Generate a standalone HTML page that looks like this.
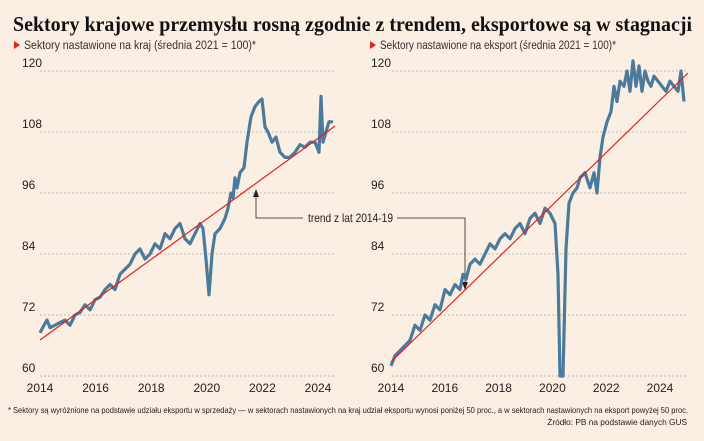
<!DOCTYPE html>
<html><head><meta charset="utf-8"><style>
body{margin:0;background:#fbeee2;width:704px;height:441px;overflow:hidden;font-family:"Liberation Sans",sans-serif}
svg{position:absolute;left:0;top:0}
</style></head><body>
<svg width="704" height="441" viewBox="0 0 704 441" xmlns="http://www.w3.org/2000/svg">
<rect width="704" height="441" fill="#fbeee2"/>
<text x="13" y="31" font-family="Liberation Serif,serif" font-weight="bold" font-size="21" fill="#111" textLength="679" lengthAdjust="spacingAndGlyphs">Sektory krajowe przemysłu rosną zgodnie z trendem, eksportowe są w stagnacji</text>
<polygon points="14,41 20,45 14,49" fill="#e2231a"/>
<text x="24" y="49" font-size="11.5" fill="#333" textLength="232" lengthAdjust="spacingAndGlyphs">Sektory nastawione na kraj (średnia 2021 = 100)*</text>
<polygon points="370,41 376,45 370,49" fill="#e2231a"/>
<text x="380" y="49" font-size="11.5" fill="#333" textLength="236" lengthAdjust="spacingAndGlyphs">Sektory nastawione na eksport (średnia 2021 = 100)*</text>
<g id="grid" stroke="#aaa" stroke-width="0.8" stroke-dasharray="2,2"></g>
<g id="labels" font-size="12" fill="#222"></g>
<path d="M256,190 L256,218 L303,218 M397,218 L465,218 L465,288" fill="none" stroke="#222" stroke-width="0.8"/>
<polygon points="253,197 256,189 259,197" fill="#222"/>
<polygon points="462,282 465,290 468,282" fill="#222"/>
<text x="308" y="222" font-size="12" fill="#222" textLength="85" lengthAdjust="spacingAndGlyphs">trend z lat 2014-19</text>
<path id="l1" fill="none" stroke="#4a7b9d" stroke-width="3.2" stroke-linejoin="round"/>
<path id="l2" fill="none" stroke="#4a7b9d" stroke-width="3.2" stroke-linejoin="round"/>
<line x1="40" y1="340" x2="335" y2="126" stroke="#e2231a" stroke-width="1.2"/>
<line x1="391" y1="362" x2="688" y2="73" stroke="#e2231a" stroke-width="1.2"/>
<text x="8" y="413" font-size="8.3" fill="#222" textLength="680" lengthAdjust="spacingAndGlyphs">* Sektory są wyróżnione na podstawie udziału eksportu w sprzedaży — w sektorach nastawionych na kraj udział eksportu wynosi poniżej 50 proc., a w sektorach nastawionych na eksport powyżej 50 proc.</text>
<text x="687" y="425" font-size="8.3" fill="#222" text-anchor="end">Źródło: PB na podstawie danych GUS</text>
</svg>
<script>
var ns="http://www.w3.org/2000/svg";
function y(v){return 376-(v-60)*61/12;}
var g=document.getElementById('grid'),lb=document.getElementById('labels');
[120,108,96,84,72,60].forEach(function(v){
 [[40,335,22],[392,688,371]].forEach(function(a){
  var l=document.createElementNS(ns,'line');l.setAttribute('x1',a[0]);l.setAttribute('x2',a[1]);l.setAttribute('y1',y(v));l.setAttribute('y2',y(v));g.appendChild(l);
  var t=document.createElementNS(ns,'text');t.setAttribute('x',a[2]);t.setAttribute('y',y(v)-4);t.textContent=v;lb.appendChild(t);
 });
});
for(var i=0;i<6;i++){
 [[40,27.8],[391,26.9]].forEach(function(a){
  var t=document.createElementNS(ns,'text');t.setAttribute('x',a[0]+a[1]*2*i);t.setAttribute('y',392);t.setAttribute('text-anchor','middle');t.textContent=2014+2*i;lb.appendChild(t);
 });
}
var L=[40,68.5,44,70,47,71,50,69.5,55,70,60,70.5,65,71,70,70,75,72,80,72.5,85,74,90,73,95,75,100,75.5,105,77,110,78,115,77,120,80,125,81,130,82,135,84,140,85,145,83,150,84,155,86,160,85,165,88,170,87,175,89,180,90,185,87,190,86,195,88,200,90,203,89,206,83,209,76,212,84,215,88,220,89,225,91,228,93,231,96,233,95,235,99,237,97,240,100,244,101,247,106,251,111,255,113,259,114,262,114.5,265,109,268,108,272,106,276,107,280,104,285,103,290,103,295,104,300,105.5,305,105,310,106,315,106,319,104,321,115,323,106,326,108,329,110,333,110];
var R=[391,62,395,64,400,65,405,66,410,67,415,70,420,69,425,72,430,71,435,74,440,73,445,77,450,76,455,78,460,77,463,80,466,79,470,82,475,83,480,82,485,84,490,86,495,85,500,87,505,88,510,87,515,89,520,90,525,88,530,91,535,92,540,90,545,93,550,92,555,90,558,80,560,60,563,60,566,85,569,94,573,96,577,97,580,99,585,100,590,97,594,100,597,96,600,103,603,107,607,110,611,112,614,117,617,114,620,118,624,117,627,120,630,116,633,122,636,117,639,121,642,116,645,120,648,118,651,117,654,119,658,118,662,117,666,116,670,118,674,117,678,116,681,120,684,114];
function d(a){var s='';for(var i=0;i<a.length;i+=2)s+=(i?'L':'M')+a[i]+','+y(a[i+1]).toFixed(1);return s;}
document.getElementById('l1').setAttribute('d',d(L));
document.getElementById('l2').setAttribute('d',d(R));
</script>
</body></html>
